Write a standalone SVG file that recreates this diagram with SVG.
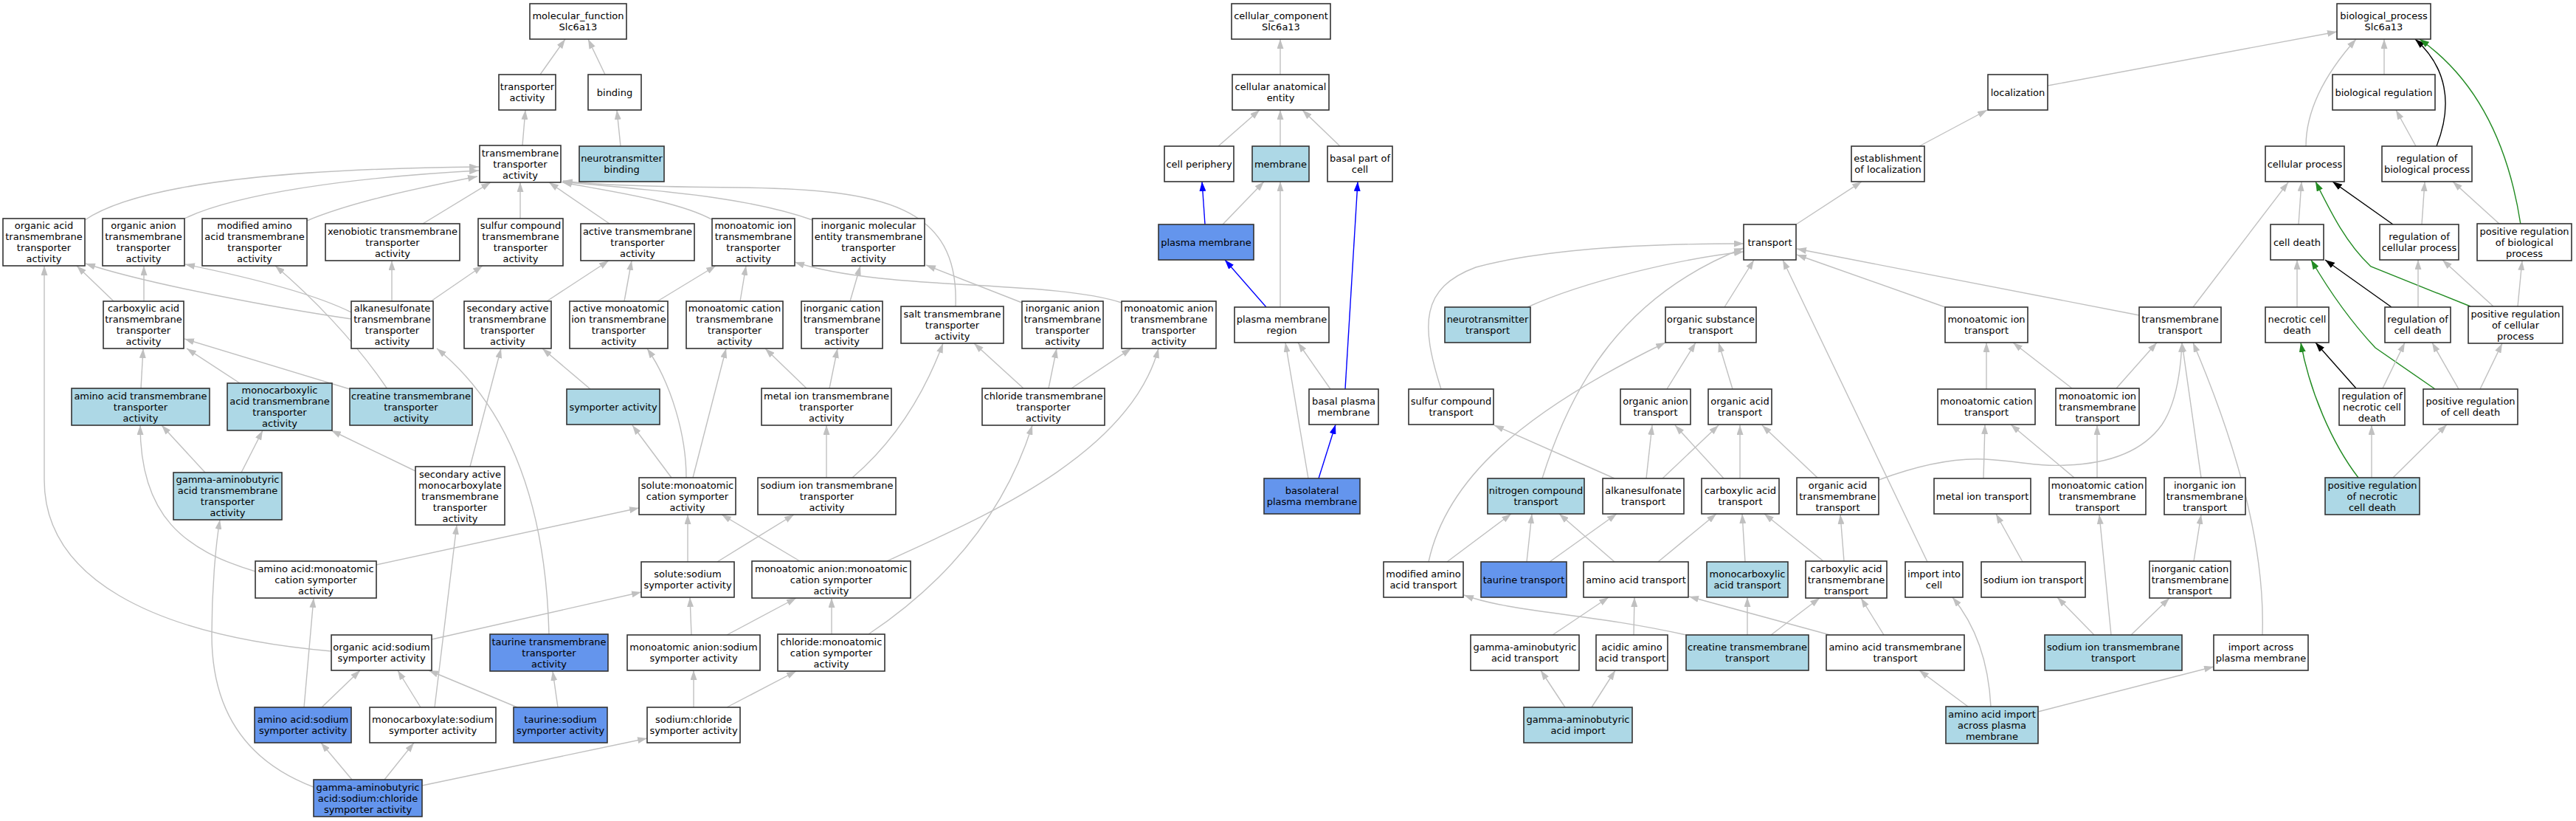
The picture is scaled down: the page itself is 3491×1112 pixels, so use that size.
<svg xmlns="http://www.w3.org/2000/svg" width="3491" height="1112" viewBox="0 0 3491 1112">
<style>
rect{stroke:#333;stroke-width:1.6;fill:#fff}
.lb rect{fill:#add8e6}
.db rect{fill:#6495ed}
text{font-family:"DejaVu Sans","Liberation Sans",sans-serif;font-size:13px;text-anchor:middle;fill:#000}
#edges path{fill:none;stroke-width:1.4}
#edges .g{stroke:#c0c0c0;marker-end:url(#ag)}
#edges .b{stroke:#0000ff;marker-end:url(#ab)}
#edges .k{stroke:#000;marker-end:url(#ak)}
#edges .v{stroke:#228b22;marker-end:url(#av)}
</style>
<defs>
<marker id="ag" viewBox="0 0 13 9" refX="13" refY="4.5" markerWidth="13" markerHeight="9" markerUnits="userSpaceOnUse" orient="auto"><path d="M0,0L13,4.5L0,9z" fill="#c0c0c0"/></marker>
<marker id="ab" viewBox="0 0 13 9" refX="13" refY="4.5" markerWidth="13" markerHeight="9" markerUnits="userSpaceOnUse" orient="auto"><path d="M0,0L13,4.5L0,9z" fill="#0000ff"/></marker>
<marker id="ak" viewBox="0 0 13 9" refX="13" refY="4.5" markerWidth="13" markerHeight="9" markerUnits="userSpaceOnUse" orient="auto"><path d="M0,0L13,4.5L0,9z" fill="#000"/></marker>
<marker id="av" viewBox="0 0 13 9" refX="13" refY="4.5" markerWidth="13" markerHeight="9" markerUnits="userSpaceOnUse" orient="auto"><path d="M0,0L13,4.5L0,9z" fill="#228b22"/></marker>
</defs>
<rect x="0" y="0" width="3491" height="1112" style="stroke:none;fill:#fff"/>
<g id="edges">
<path class="g" d="M732,101 L766,53"/>
<path class="g" d="M820,101 L797,53"/>
<path class="g" d="M708,197 L712,149"/>
<path class="g" d="M841,198 L836,149"/>
<path class="g" d="M115,298 C200,240 450,228 649,226"/>
<path class="g" d="M250,296 C320,262 480,240 649,231"/>
<path class="g" d="M416,299 C480,272 580,252 647,239"/>
<path class="g" d="M573,303 L665,247"/>
<path class="g" d="M705,296 L705,247"/>
<path class="g" d="M826,303 L744,247"/>
<path class="g" d="M966,298 C920,272 820,258 762,247"/>
<path class="g" d="M1101,298 C1000,262 850,256 762,246"/>
<path class="g" d="M1295,415 C1300,280 1200,256 1000,254 C880,253 800,250 763,245"/>
<path class="g" d="M154,408 L104,360"/>
<path class="g" d="M195,408 L195,360"/>
<path class="g" d="M476,432 C380,418 200,385 116,357"/>
<path class="g" d="M476,423 C420,395 320,372 251,358"/>
<path class="g" d="M531,408 L531,353"/>
<path class="g" d="M584,408 L654,360"/>
<path class="g" d="M525,527 C480,460 420,400 373,360"/>
<path class="g" d="M741,408 L825,353"/>
<path class="g" d="M846,408 L856,353"/>
<path class="g" d="M891,408 L970,360"/>
<path class="g" d="M1003,408 L1011,360"/>
<path class="g" d="M1520,410 C1420,378 1200,395 1077,355"/>
<path class="g" d="M1152,408 L1166,360"/>
<path class="g" d="M1385,410 L1255,359"/>
<path class="g" d="M1387,526 L1320,465"/>
<path class="g" d="M1421,526 L1432,472"/>
<path class="g" d="M1452,526 L1533,472"/>
<path class="g" d="M1155,647 C1210,600 1250,540 1278,465"/>
<path class="g" d="M1202,760 C1320,705 1530,620 1570,472"/>
<path class="g" d="M1093,526 L1037,472"/>
<path class="g" d="M1124,526 L1135,472"/>
<path class="g" d="M910,647 L857,576"/>
<path class="g" d="M930,647 C930,590 910,520 877,472"/>
<path class="g" d="M939,647 L984,472"/>
<path class="g" d="M1120,647 L1120,576"/>
<path class="g" d="M637,632 L679,472"/>
<path class="g" d="M800,527 L735,472"/>
<path class="g" d="M744,859 C740,700 700,560 592,472"/>
<path class="g" d="M191,526 L194,472"/>
<path class="g" d="M325,519 L253,472"/>
<path class="g" d="M474,527 L250,459"/>
<path class="g" d="M449,882 C200,860 60,780 60,650 L60,360"/>
<path class="g" d="M346,774 C250,745 190,700 190,576"/>
<path class="g" d="M278,640 L219,576"/>
<path class="g" d="M327,640 L356,583"/>
<path class="g" d="M563,638 L449,583"/>
<path class="g" d="M425,1066 C330,1030 287,960 287,860 C287,800 292,740 298,704"/>
<path class="g" d="M589,958 L619,711"/>
<path class="g" d="M510,765 L866,688"/>
<path class="g" d="M412,958 L425,810"/>
<path class="g" d="M585,866 L869,802"/>
<path class="g" d="M436,958 L488,908"/>
<path class="g" d="M570,958 L539,908"/>
<path class="g" d="M701,958 L581,908"/>
<path class="g" d="M756,958 L749,909"/>
<path class="g" d="M477,1056 L435,1006"/>
<path class="g" d="M521,1056 L561,1006"/>
<path class="g" d="M572,1064 L877,1000"/>
<path class="g" d="M932,761 L932,697"/>
<path class="g" d="M972,761 L1076,697"/>
<path class="g" d="M1084,760 L978,697"/>
<path class="g" d="M937,860 L935,809"/>
<path class="g" d="M985,860 L1079,810"/>
<path class="g" d="M1127,859 L1127,810"/>
<path class="g" d="M1177,859 C1280,790 1360,700 1399,576"/>
<path class="g" d="M940,958 L940,908"/>
<path class="g" d="M985,958 L1079,909"/>
<path class="g" d="M1735,101 L1735,53"/>
<path class="g" d="M1651,198 L1707,149"/>
<path class="g" d="M1735,198 L1735,149"/>
<path class="g" d="M1816,198 L1765,149"/>
<path class="b" d="M1633,304 L1629,246"/>
<path class="g" d="M1657,304 L1713,246"/>
<path class="g" d="M1735,416 L1735,246"/>
<path class="b" d="M1716,416 L1660,352"/>
<path class="g" d="M1803,527 L1759,464"/>
<path class="b" d="M1823,527 L1840,246"/>
<path class="g" d="M1773,648 L1742,464"/>
<path class="b" d="M1787,648 L1810,575"/>
<path class="g" d="M2775,116 L3167,43"/>
<path class="g" d="M2601,198 L2693,149"/>
<path class="g" d="M3125,198 C3125,140 3160,90 3193,53"/>
<path class="g" d="M3231,101 L3231,53"/>
<path class="k" d="M3302,198 C3325,140 3315,90 3273,53"/>
<path class="v" d="M3416,304 C3400,200 3360,110 3279,53"/>
<path class="g" d="M3274,198 L3247,149"/>
<path class="g" d="M2434,304 L2523,246"/>
<path class="g" d="M3115,304 L3119,246"/>
<path class="k" d="M3243,304 L3161,246"/>
<path class="g" d="M3282,304 L3286,246"/>
<path class="g" d="M3388,304 L3324,246"/>
<path class="v" d="M3348,415 L3213,361 C3180,330 3160,290 3138,246"/>
<path class="g" d="M2972,416 L3101,247"/>
<path class="g" d="M3113,416 L3113,352"/>
<path class="k" d="M3241,416 L3151,352"/>
<path class="v" d="M3300,527 L3219,471 C3190,440 3160,400 3132,352"/>
<path class="g" d="M3277,416 L3277,352"/>
<path class="g" d="M3379,415 L3310,352"/>
<path class="g" d="M3412,415 L3418,353"/>
<path class="k" d="M3193,526 L3138,464"/>
<path class="v" d="M3196,647 C3160,600 3130,530 3118,464"/>
<path class="g" d="M3229,526 L3259,464"/>
<path class="g" d="M3332,527 L3296,464"/>
<path class="g" d="M3361,527 L3391,465"/>
<path class="g" d="M3214,647 L3214,576"/>
<path class="g" d="M3243,647 L3316,575"/>
<path class="g" d="M2899,427 L2435,337"/>
<path class="g" d="M2636,416 L2435,345"/>
<path class="g" d="M2070,416 C2150,380 2280,350 2363,341"/>
<path class="g" d="M1953,527 C1925,440 1925,390 2000,362 C2100,335 2250,330 2363,330"/>
<path class="g" d="M2337,416 L2377,352"/>
<path class="g" d="M2090,648 C2130,520 2200,400 2363,336"/>
<path class="g" d="M2612,761 L2416,352"/>
<path class="g" d="M2259,527 L2298,464"/>
<path class="g" d="M2348,527 L2329,464"/>
<path class="g" d="M1936,761 C1960,650 2060,560 2257,464"/>
<path class="g" d="M2188,648 L2025,576"/>
<path class="g" d="M2231,648 L2239,576"/>
<path class="g" d="M2253,648 L2329,576"/>
<path class="g" d="M2336,648 L2270,576"/>
<path class="g" d="M2358,648 L2358,576"/>
<path class="g" d="M2463,647 L2388,576"/>
<path class="g" d="M2546,650 C2600,630 2650,620 2690,622 C2740,625 2760,632 2800,630 C2860,628 2905,610 2930,575 C2948,548 2955,510 2957,464"/>
<path class="g" d="M2868,526 L2923,464"/>
<path class="g" d="M2983,647 L2957,464"/>
<path class="g" d="M3066,860 C3070,740 3030,600 2972,464"/>
<path class="g" d="M2808,526 L2728,464"/>
<path class="g" d="M2692,527 L2692,464"/>
<path class="g" d="M2688,648 L2690,575"/>
<path class="g" d="M2811,647 L2725,575"/>
<path class="g" d="M2842,647 L2842,576"/>
<path class="g" d="M2741,761 L2705,696"/>
<path class="g" d="M2838,860 L2788,809"/>
<path class="g" d="M2861,860 L2845,697"/>
<path class="g" d="M2888,860 L2940,810"/>
<path class="g" d="M2973,760 L2983,697"/>
<path class="g" d="M2698,957 C2695,900 2680,850 2646,809"/>
<path class="g" d="M2667,957 L2601,908"/>
<path class="g" d="M2762,964 L3000,903"/>
<path class="g" d="M2069,761 L2076,696"/>
<path class="g" d="M1961,761 L2048,696"/>
<path class="g" d="M2188,761 L2113,696"/>
<path class="g" d="M2100,761 L2191,696"/>
<path class="g" d="M2247,761 L2326,696"/>
<path class="g" d="M2365,761 L2361,696"/>
<path class="g" d="M2471,760 L2391,696"/>
<path class="g" d="M2499,760 L2494,697"/>
<path class="g" d="M2104,860 L2180,809"/>
<path class="g" d="M2214,860 L2215,809"/>
<path class="g" d="M2285,860 C2150,830 2050,830 1984,806"/>
<path class="g" d="M2368,860 L2368,809"/>
<path class="g" d="M2400,860 L2466,810"/>
<path class="g" d="M2480,860 L2289,808"/>
<path class="g" d="M2553,860 L2522,810"/>
<path class="g" d="M2121,958 L2088,908"/>
<path class="g" d="M2157,958 L2189,908"/>
</g>
<g id="mf"><rect x="718" y="5" width="131" height="48"/><text x="783.5" y="26">molecular_function</text><text x="783.5" y="41">Slc6a13</text></g>
<g id="ta"><rect x="676" y="101" width="77" height="48"/><text x="714.5" y="122">transporter</text><text x="714.5" y="137">activity</text></g>
<g id="bind"><rect x="797" y="101" width="72" height="48"/><text x="833" y="129.5">binding</text></g>
<g id="tta"><rect x="650" y="197" width="110" height="50"/><text x="705" y="211.5">transmembrane</text><text x="705" y="226.5">transporter</text><text x="705" y="241.5">activity</text></g>
<g id="ntb" class="lb"><rect x="785" y="198" width="115" height="48"/><text x="842.5" y="219">neurotransmitter</text><text x="842.5" y="234">binding</text></g>
<g id="oata"><rect x="4" y="296" width="111" height="64"/><text x="59.5" y="310">organic acid</text><text x="59.5" y="325">transmembrane</text><text x="59.5" y="340">transporter</text><text x="59.5" y="355">activity</text></g>
<g id="oanta"><rect x="139" y="296" width="111" height="64"/><text x="194.5" y="310">organic anion</text><text x="194.5" y="325">transmembrane</text><text x="194.5" y="340">transporter</text><text x="194.5" y="355">activity</text></g>
<g id="maata"><rect x="274" y="296" width="142" height="64"/><text x="345" y="310">modified amino</text><text x="345" y="325">acid transmembrane</text><text x="345" y="340">transporter</text><text x="345" y="355">activity</text></g>
<g id="xta"><rect x="441" y="303" width="182" height="50"/><text x="532" y="317.5">xenobiotic transmembrane</text><text x="532" y="332.5">transporter</text><text x="532" y="347.5">activity</text></g>
<g id="scta"><rect x="648" y="296" width="115" height="64"/><text x="705.5" y="310">sulfur compound</text><text x="705.5" y="325">transmembrane</text><text x="705.5" y="340">transporter</text><text x="705.5" y="355">activity</text></g>
<g id="atta"><rect x="787" y="303" width="154" height="50"/><text x="864" y="317.5">active transmembrane</text><text x="864" y="332.5">transporter</text><text x="864" y="347.5">activity</text></g>
<g id="mita"><rect x="965" y="296" width="112" height="64"/><text x="1021" y="310">monoatomic ion</text><text x="1021" y="325">transmembrane</text><text x="1021" y="340">transporter</text><text x="1021" y="355">activity</text></g>
<g id="imeta"><rect x="1101" y="296" width="152" height="64"/><text x="1177" y="310">inorganic molecular</text><text x="1177" y="325">entity transmembrane</text><text x="1177" y="340">transporter</text><text x="1177" y="355">activity</text></g>
<g id="cata"><rect x="140" y="408" width="109" height="64"/><text x="194.5" y="422">carboxylic acid</text><text x="194.5" y="437">transmembrane</text><text x="194.5" y="452">transporter</text><text x="194.5" y="467">activity</text></g>
<g id="alkta"><rect x="476" y="408" width="111" height="64"/><text x="531.5" y="422">alkanesulfonate</text><text x="531.5" y="437">transmembrane</text><text x="531.5" y="452">transporter</text><text x="531.5" y="467">activity</text></g>
<g id="sata"><rect x="629" y="408" width="118" height="64"/><text x="688" y="422">secondary active</text><text x="688" y="437">transmembrane</text><text x="688" y="452">transporter</text><text x="688" y="467">activity</text></g>
<g id="amita"><rect x="772" y="408" width="133" height="64"/><text x="838.5" y="422">active monoatomic</text><text x="838.5" y="437">ion transmembrane</text><text x="838.5" y="452">transporter</text><text x="838.5" y="467">activity</text></g>
<g id="mcta"><rect x="930" y="408" width="131" height="64"/><text x="995.5" y="422">monoatomic cation</text><text x="995.5" y="437">transmembrane</text><text x="995.5" y="452">transporter</text><text x="995.5" y="467">activity</text></g>
<g id="icta"><rect x="1086" y="408" width="110" height="64"/><text x="1141" y="422">inorganic cation</text><text x="1141" y="437">transmembrane</text><text x="1141" y="452">transporter</text><text x="1141" y="467">activity</text></g>
<g id="salt"><rect x="1221" y="415" width="139" height="50"/><text x="1290.5" y="429.5">salt transmembrane</text><text x="1290.5" y="444.5">transporter</text><text x="1290.5" y="459.5">activity</text></g>
<g id="ianta"><rect x="1385" y="408" width="110" height="64"/><text x="1440" y="422">inorganic anion</text><text x="1440" y="437">transmembrane</text><text x="1440" y="452">transporter</text><text x="1440" y="467">activity</text></g>
<g id="manta"><rect x="1520" y="408" width="128" height="64"/><text x="1584" y="422">monoatomic anion</text><text x="1584" y="437">transmembrane</text><text x="1584" y="452">transporter</text><text x="1584" y="467">activity</text></g>
<g id="aata" class="lb"><rect x="97" y="526" width="187" height="50"/><text x="190.5" y="540.5">amino acid transmembrane</text><text x="190.5" y="555.5">transporter</text><text x="190.5" y="570.5">activity</text></g>
<g id="mcata" class="lb"><rect x="308" y="519" width="142" height="64"/><text x="379" y="533">monocarboxylic</text><text x="379" y="548">acid transmembrane</text><text x="379" y="563">transporter</text><text x="379" y="578">activity</text></g>
<g id="crta" class="lb"><rect x="474" y="526" width="166" height="50"/><text x="557" y="540.5">creatine transmembrane</text><text x="557" y="555.5">transporter</text><text x="557" y="570.5">activity</text></g>
<g id="sym" class="lb"><rect x="768" y="527" width="126" height="48"/><text x="831" y="555.5">symporter activity</text></g>
<g id="mita2"><rect x="1032" y="526" width="176" height="50"/><text x="1120" y="540.5">metal ion transmembrane</text><text x="1120" y="555.5">transporter</text><text x="1120" y="570.5">activity</text></g>
<g id="clta"><rect x="1331" y="526" width="166" height="50"/><text x="1414" y="540.5">chloride transmembrane</text><text x="1414" y="555.5">transporter</text><text x="1414" y="570.5">activity</text></g>
<g id="gabata" class="lb"><rect x="235" y="640" width="147" height="64"/><text x="308.5" y="654">gamma-aminobutyric</text><text x="308.5" y="669">acid transmembrane</text><text x="308.5" y="684">transporter</text><text x="308.5" y="699">activity</text></g>
<g id="samc"><rect x="563" y="632" width="121" height="79"/><text x="623.5" y="646.5">secondary active</text><text x="623.5" y="661.5">monocarboxylate</text><text x="623.5" y="676.5">transmembrane</text><text x="623.5" y="691.5">transporter</text><text x="623.5" y="706.5">activity</text></g>
<g id="smcs"><rect x="866" y="647" width="131" height="50"/><text x="931.5" y="661.5">solute:monoatomic</text><text x="931.5" y="676.5">cation symporter</text><text x="931.5" y="691.5">activity</text></g>
<g id="sita"><rect x="1027" y="647" width="187" height="50"/><text x="1120.5" y="661.5">sodium ion transmembrane</text><text x="1120.5" y="676.5">transporter</text><text x="1120.5" y="691.5">activity</text></g>
<g id="aamcs"><rect x="346" y="760" width="164" height="50"/><text x="428" y="774.5">amino acid:monoatomic</text><text x="428" y="789.5">cation symporter</text><text x="428" y="804.5">activity</text></g>
<g id="sss"><rect x="869" y="761" width="126" height="48"/><text x="932" y="782">solute:sodium</text><text x="932" y="797">symporter activity</text></g>
<g id="mamc"><rect x="1019" y="760" width="215" height="50"/><text x="1126.5" y="774.5">monoatomic anion:monoatomic</text><text x="1126.5" y="789.5">cation symporter</text><text x="1126.5" y="804.5">activity</text></g>
<g id="oass"><rect x="449" y="860" width="136" height="48"/><text x="517" y="881">organic acid:sodium</text><text x="517" y="896">symporter activity</text></g>
<g id="tauta" class="db"><rect x="664" y="859" width="160" height="50"/><text x="744" y="873.5">taurine transmembrane</text><text x="744" y="888.5">transporter</text><text x="744" y="903.5">activity</text></g>
<g id="mass"><rect x="850" y="860" width="180" height="48"/><text x="940" y="881">monoatomic anion:sodium</text><text x="940" y="896">symporter activity</text></g>
<g id="clmc"><rect x="1054" y="859" width="145" height="50"/><text x="1126.5" y="873.5">chloride:monoatomic</text><text x="1126.5" y="888.5">cation symporter</text><text x="1126.5" y="903.5">activity</text></g>
<g id="aass" class="db"><rect x="345" y="958" width="131" height="48"/><text x="410.5" y="979">amino acid:sodium</text><text x="410.5" y="994">symporter activity</text></g>
<g id="mcss"><rect x="501" y="958" width="171" height="48"/><text x="586.5" y="979">monocarboxylate:sodium</text><text x="586.5" y="994">symporter activity</text></g>
<g id="tss" class="db"><rect x="696" y="958" width="127" height="48"/><text x="759.5" y="979">taurine:sodium</text><text x="759.5" y="994">symporter activity</text></g>
<g id="scs"><rect x="877" y="958" width="126" height="48"/><text x="940" y="979">sodium:chloride</text><text x="940" y="994">symporter activity</text></g>
<g id="gabass" class="db"><rect x="425" y="1056" width="147" height="50"/><text x="498.5" y="1070.5">gamma-aminobutyric</text><text x="498.5" y="1085.5">acid:sodium:chloride</text><text x="498.5" y="1100.5">symporter activity</text></g>
<g id="cc"><rect x="1669" y="5" width="134" height="48"/><text x="1736" y="26">cellular_component</text><text x="1736" y="41">Slc6a13</text></g>
<g id="cae"><rect x="1670" y="101" width="131" height="48"/><text x="1735.5" y="122">cellular anatomical</text><text x="1735.5" y="137">entity</text></g>
<g id="cp"><rect x="1578" y="198" width="94" height="48"/><text x="1625" y="226.5">cell periphery</text></g>
<g id="mem" class="lb"><rect x="1697" y="198" width="77" height="48"/><text x="1735.5" y="226.5">membrane</text></g>
<g id="bpc"><rect x="1799" y="198" width="88" height="48"/><text x="1843" y="219">basal part of</text><text x="1843" y="234">cell</text></g>
<g id="pm" class="db"><rect x="1570" y="304" width="129" height="48"/><text x="1634.5" y="332.5">plasma membrane</text></g>
<g id="pmr"><rect x="1673" y="416" width="128" height="48"/><text x="1737" y="437">plasma membrane</text><text x="1737" y="452">region</text></g>
<g id="bpm"><rect x="1774" y="527" width="94" height="48"/><text x="1821" y="548">basal plasma</text><text x="1821" y="563">membrane</text></g>
<g id="blpm" class="db"><rect x="1713" y="648" width="130" height="48"/><text x="1778" y="669">basolateral</text><text x="1778" y="684">plasma membrane</text></g>
<g id="bp"><rect x="3167" y="5" width="127" height="48"/><text x="3230.5" y="26">biological_process</text><text x="3230.5" y="41">Slc6a13</text></g>
<g id="loc"><rect x="2694" y="101" width="81" height="48"/><text x="2734.5" y="129.5">localization</text></g>
<g id="breg"><rect x="3161" y="101" width="139" height="48"/><text x="3230.5" y="129.5">biological regulation</text></g>
<g id="eol"><rect x="2509" y="198" width="99" height="48"/><text x="2558.5" y="219">establishment</text><text x="2558.5" y="234">of localization</text></g>
<g id="cproc"><rect x="3070" y="198" width="107" height="48"/><text x="3123.5" y="226.5">cellular process</text></g>
<g id="rbp"><rect x="3228" y="198" width="122" height="48"/><text x="3289" y="219">regulation of</text><text x="3289" y="234">biological process</text></g>
<g id="transport"><rect x="2363" y="304" width="71" height="48"/><text x="2398.5" y="332.5">transport</text></g>
<g id="cd"><rect x="3077" y="304" width="72" height="48"/><text x="3113" y="332.5">cell death</text></g>
<g id="rcp"><rect x="3225" y="304" width="107" height="48"/><text x="3278.5" y="325">regulation of</text><text x="3278.5" y="340">cellular process</text></g>
<g id="prbp"><rect x="3357" y="303" width="128" height="50"/><text x="3421" y="317.5">positive regulation</text><text x="3421" y="332.5">of biological</text><text x="3421" y="347.5">process</text></g>
<g id="ntt" class="lb"><rect x="1958" y="416" width="116" height="48"/><text x="2016" y="437">neurotransmitter</text><text x="2016" y="452">transport</text></g>
<g id="ost"><rect x="2257" y="416" width="123" height="48"/><text x="2318.5" y="437">organic substance</text><text x="2318.5" y="452">transport</text></g>
<g id="mit"><rect x="2636" y="416" width="112" height="48"/><text x="2692" y="437">monoatomic ion</text><text x="2692" y="452">transport</text></g>
<g id="tmt"><rect x="2899" y="416" width="111" height="48"/><text x="2954.5" y="437">transmembrane</text><text x="2954.5" y="452">transport</text></g>
<g id="ncd"><rect x="3070" y="416" width="86" height="48"/><text x="3113" y="437">necrotic cell</text><text x="3113" y="452">death</text></g>
<g id="rcd"><rect x="3232" y="416" width="89" height="48"/><text x="3276.5" y="437">regulation of</text><text x="3276.5" y="452">cell death</text></g>
<g id="prcp"><rect x="3345" y="415" width="128" height="50"/><text x="3409" y="429.5">positive regulation</text><text x="3409" y="444.5">of cellular</text><text x="3409" y="459.5">process</text></g>
<g id="sct"><rect x="1909" y="527" width="115" height="48"/><text x="1966.5" y="548">sulfur compound</text><text x="1966.5" y="563">transport</text></g>
<g id="oant"><rect x="2196" y="527" width="95" height="48"/><text x="2243.5" y="548">organic anion</text><text x="2243.5" y="563">transport</text></g>
<g id="oact"><rect x="2315" y="527" width="86" height="48"/><text x="2358" y="548">organic acid</text><text x="2358" y="563">transport</text></g>
<g id="mct"><rect x="2626" y="527" width="132" height="48"/><text x="2692" y="548">monoatomic cation</text><text x="2692" y="563">transport</text></g>
<g id="mitt"><rect x="2786" y="526" width="113" height="50"/><text x="2842.5" y="540.5">monoatomic ion</text><text x="2842.5" y="555.5">transmembrane</text><text x="2842.5" y="570.5">transport</text></g>
<g id="rncd"><rect x="3170" y="526" width="89" height="50"/><text x="3214.5" y="540.5">regulation of</text><text x="3214.5" y="555.5">necrotic cell</text><text x="3214.5" y="570.5">death</text></g>
<g id="prcd"><rect x="3284" y="527" width="128" height="48"/><text x="3348" y="548">positive regulation</text><text x="3348" y="563">of cell death</text></g>
<g id="nct" class="lb"><rect x="2016" y="648" width="131" height="48"/><text x="2081.5" y="669">nitrogen compound</text><text x="2081.5" y="684">transport</text></g>
<g id="alkt"><rect x="2172" y="648" width="110" height="48"/><text x="2227" y="669">alkanesulfonate</text><text x="2227" y="684">transport</text></g>
<g id="cat"><rect x="2306" y="648" width="105" height="48"/><text x="2358.5" y="669">carboxylic acid</text><text x="2358.5" y="684">transport</text></g>
<g id="oatt"><rect x="2435" y="647" width="111" height="50"/><text x="2490.5" y="661.5">organic acid</text><text x="2490.5" y="676.5">transmembrane</text><text x="2490.5" y="691.5">transport</text></g>
<g id="mit2"><rect x="2621" y="648" width="131" height="48"/><text x="2686.5" y="676.5">metal ion transport</text></g>
<g id="mctt"><rect x="2777" y="647" width="131" height="50"/><text x="2842.5" y="661.5">monoatomic cation</text><text x="2842.5" y="676.5">transmembrane</text><text x="2842.5" y="691.5">transport</text></g>
<g id="iitt"><rect x="2933" y="647" width="110" height="50"/><text x="2988" y="661.5">inorganic ion</text><text x="2988" y="676.5">transmembrane</text><text x="2988" y="691.5">transport</text></g>
<g id="prncd" class="lb"><rect x="3151" y="647" width="128" height="50"/><text x="3215" y="661.5">positive regulation</text><text x="3215" y="676.5">of necrotic</text><text x="3215" y="691.5">cell death</text></g>
<g id="mat"><rect x="1875" y="761" width="108" height="48"/><text x="1929" y="782">modified amino</text><text x="1929" y="797">acid transport</text></g>
<g id="taut" class="db"><rect x="2007" y="761" width="116" height="48"/><text x="2065" y="789.5">taurine transport</text></g>
<g id="aat"><rect x="2146" y="761" width="142" height="48"/><text x="2217" y="789.5">amino acid transport</text></g>
<g id="mcat" class="lb"><rect x="2313" y="761" width="110" height="48"/><text x="2368" y="782">monocarboxylic</text><text x="2368" y="797">acid transport</text></g>
<g id="catt"><rect x="2447" y="760" width="110" height="50"/><text x="2502" y="774.5">carboxylic acid</text><text x="2502" y="789.5">transmembrane</text><text x="2502" y="804.5">transport</text></g>
<g id="iic"><rect x="2582" y="761" width="78" height="48"/><text x="2621" y="782">import into</text><text x="2621" y="797">cell</text></g>
<g id="sit"><rect x="2685" y="761" width="141" height="48"/><text x="2755.5" y="789.5">sodium ion transport</text></g>
<g id="ictt"><rect x="2913" y="760" width="110" height="50"/><text x="2968" y="774.5">inorganic cation</text><text x="2968" y="789.5">transmembrane</text><text x="2968" y="804.5">transport</text></g>
<g id="gabat"><rect x="1993" y="860" width="147" height="48"/><text x="2066.5" y="881">gamma-aminobutyric</text><text x="2066.5" y="896">acid transport</text></g>
<g id="aaat"><rect x="2163" y="860" width="97" height="48"/><text x="2211.5" y="881">acidic amino</text><text x="2211.5" y="896">acid transport</text></g>
<g id="crtt" class="lb"><rect x="2285" y="860" width="166" height="48"/><text x="2368" y="881">creatine transmembrane</text><text x="2368" y="896">transport</text></g>
<g id="aatt"><rect x="2475" y="860" width="187" height="48"/><text x="2568.5" y="881">amino acid transmembrane</text><text x="2568.5" y="896">transport</text></g>
<g id="sitt" class="lb"><rect x="2771" y="860" width="186" height="48"/><text x="2864" y="881">sodium ion transmembrane</text><text x="2864" y="896">transport</text></g>
<g id="iapm"><rect x="3000" y="860" width="128" height="48"/><text x="3064" y="881">import across</text><text x="3064" y="896">plasma membrane</text></g>
<g id="gabai" class="lb"><rect x="2065" y="958" width="147" height="48"/><text x="2138.5" y="979">gamma-aminobutyric</text><text x="2138.5" y="994">acid import</text></g>
<g id="aaiapm" class="lb"><rect x="2637" y="957" width="125" height="50"/><text x="2699.5" y="971.5">amino acid import</text><text x="2699.5" y="986.5">across plasma</text><text x="2699.5" y="1001.5">membrane</text></g>
</svg>
